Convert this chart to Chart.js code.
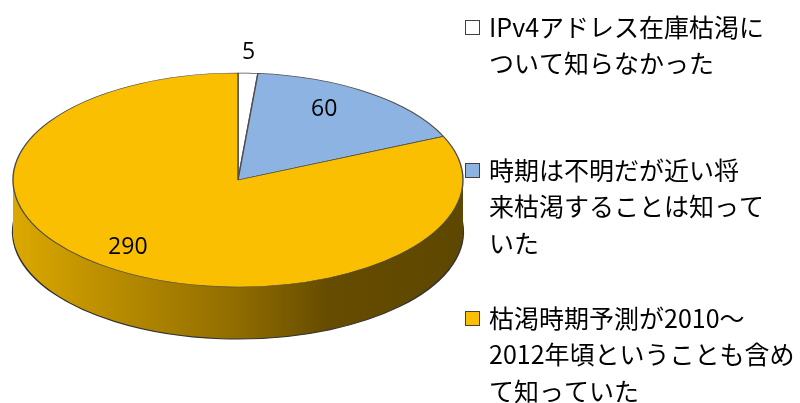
<!DOCTYPE html>
<html lang="ja">
<head>
<meta charset="utf-8">
<script src="https://cdn.jsdelivr.net/npm/chart.js@4.4.1/dist/chart.umd.min.js"></script>
<style>
  html, body { margin: 0; padding: 0; background: #fff; }
  #wrap { width: 800px; height: 403px; position: relative; }
</style>
</head>
<body>
<div id="wrap"><canvas id="pie"></canvas></div>
<script>
// answers: how well people knew about IPv4 address exhaustion
const categories = [
  ["IPv4アドレス在庫枯渇に", "ついて知らなかった", ""],
  ["時期は不明だが近い将", "来枯渇することは知って", "いた"],
  ["枯渇時期予測が2010～", "2012年頃ということも含め", "て知っていた"],
]
const answers = [5, 60, 290]
const sliceColors = ["#ffffff", "#8db3e2", "#fabf00"]

// fake 3d look: squash the pie and stack a shaded rim under it
const tilt = 107 / 225
const depth = 52
const topY = 180
const labelAnchorY = 167

function tiltCtx(ctx, x, y) {
  ctx.translate(x, topY)
  ctx.scale(1, tilt)
  ctx.translate(-x, -y)
}

const pie3d = {
  id: "pie3d",
  beforeDatasetsDraw(chart) {
    const ctx = chart.ctx
    const arcs = chart.getDatasetMeta(0).data
    const { x, y, outerRadius } = arcs[0]
    const grad = ctx.createLinearGradient(x - outerRadius, 0, x + outerRadius, 0)
    grad.addColorStop(0, "#dca800")
    grad.addColorStop(0.15, "#c49500")
    grad.addColorStop(0.5, "#8f6c00")
    grad.addColorStop(0.7, "#664c00")
    grad.addColorStop(1, "#5e4700")

    for (let d = depth; d >= 1; d--) {
      ctx.save()
      ctx.translate(0, d)
      tiltCtx(ctx, x, y)
      arcs.forEach((arc) => {
        const ghost = Object.create(arc)
        ghost.options = Object.assign({}, arc.options, {
          backgroundColor: grad,
          borderColor: "#333333",
          borderWidth: d === depth ? 2.2 : 0,
        })
        arc.draw.call(ghost, ctx)
      })
      ctx.restore()
    }
    ctx.save()
    tiltCtx(ctx, x, y)
  },
  afterDatasetsDraw(chart) {
    const ctx = chart.ctx
    ctx.restore()
    const labelReach = [1.07, 0.66, 0.9]
    ctx.save()
    ctx.font = "23px 'Open Sans'"
    ctx.fillStyle = "#000"
    ctx.textAlign = "center"
    ctx.textBaseline = "middle"
    chart.getDatasetMeta(0).data.forEach((arc, i) => {
      const mid = (arc.startAngle + arc.endAngle) / 2
      const r = arc.outerRadius * labelReach[i]
      ctx.fillText(String(answers[i]), arc.x + Math.cos(mid) * r, labelAnchorY + Math.sin(mid) * r * tilt)
    })
    ctx.restore()
  },
}

const sideLegend = {
  id: "sideLegend",
  afterDraw(chart) {
    const ctx = chart.ctx
    const boxX = 465
    const textX = 489
    const lineGap = 36.5
    const entryTops = [27, 170, 318]
    ctx.save()
    ctx.font = "25px 'Noto Sans CJK JP'"
    ctx.textBaseline = "middle"
    ctx.textAlign = "left"
    categories.forEach((lines, i) => {
      const cy = entryTops[i]
      ctx.fillStyle = sliceColors[i]
      ctx.fillRect(boxX, cy - 7, 15, 15)
      ctx.strokeStyle = "#404040"
      ctx.lineWidth = 1
      ctx.strokeRect(boxX + 0.5, cy - 6.5, 14, 14)
      ctx.fillStyle = "#000"
      lines.forEach((t, j) => ctx.fillText(t, textX, cy + j * lineGap))
    })
    ctx.restore()
  },
}

new Chart(document.getElementById("pie"), {
  type: "pie",
  data: {
    labels: categories,
    datasets: [
      {
        data: answers,
        backgroundColor: sliceColors,
        borderColor: "#4d4d4d",
        borderWidth: 1.4,
        radius: 225,
        clip: false,
      },
    ],
  },
  options: {
    responsive: true,
    maintainAspectRatio: false,
    animation: false,
    layout: { padding: { left: 16, right: 340 } },
    plugins: {
      legend: { display: false },
      tooltip: { enabled: false },
    },
  },
  plugins: [pie3d, sideLegend],
})
</script>
</body>
</html>
